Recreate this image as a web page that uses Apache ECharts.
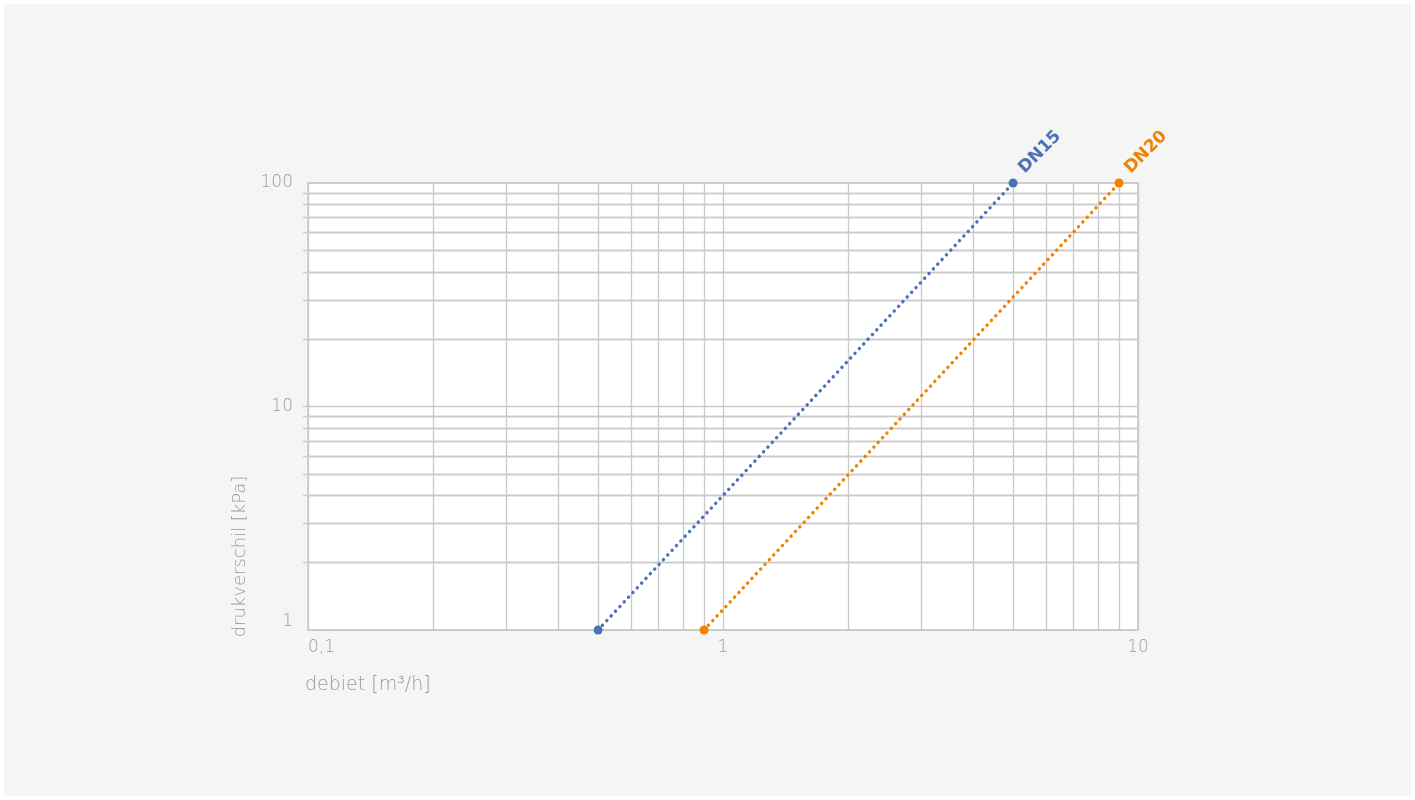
<!DOCTYPE html>
<html>
<head>
<meta charset="utf-8">
<title>drukverschil</title>
<script src="https://cdn.jsdelivr.net/npm/echarts@6/dist/echarts.min.js"></script>
<style>
  html, body { margin: 0; padding: 0; background: #ffffff; }
  #container { position: absolute; left: 4px; top: 4px; width: 1407px; height: 792px; }
</style>
</head>
<body>
<div id="container"></div>
<script>
// debiet [m3/h] -> drukverschil [kPa]
const dn15 = [[0.5, 1], [5, 100]];
const dn20 = [[0.9, 1], [9, 100]];
const seriesNames = ['DN15', 'DN20'];
const seriesColors = ['#4a72b8', '#f08200'];

// minor grid lines
const xMinor = [0.2, 0.3, 0.4, 0.5, 0.6, 0.7, 0.8, 0.9, 2, 3, 4, 5, 6, 7, 8, 9];
const yMinor = [2, 3, 4, 5, 6, 7, 8, 9, 20, 30, 40, 50, 60, 70, 80, 90];
const yTicks = [2, 3, 4, 5, 6, 7, 8, 9, 10, 20, 30, 40, 50, 60, 70, 80, 90];

const font = '"DejaVu Sans", Lato, sans-serif';
const textGrey = '#9a9a9a';
const gridGrey = '#cacaca';

const myChart = echarts.init(document.getElementById('container'));

function withLabel(points, name, color) {
    return points.map((p, i) => i === points.length - 1 ? {
        value: p,
        label: {
            show: true,
            formatter: name,
            position: [13, -8],
            align: 'left',
            verticalAlign: 'middle',
            rotate: 45,
            color: color,
            fontFamily: font,
            fontWeight: 'bold',
            fontSize: 17
        }
    } : p);
}

function makeSeries(points, name, color, withGrid) {
    const s = {
        name: name,
        type: 'line',
        data: withLabel(points, name, color),
        symbol: 'circle',
        symbolSize: 9,
        clip: false,
        z: 3,
        itemStyle: { color: color },
        lineStyle: { color: color, width: 3.4, type: [0.1, 6.3], cap: 'round' },
        emphasis: { disabled: true }
    };
    if (withGrid) {
        s.markLine = {
            silent: true,
            symbol: 'none',
            z: 1,
            label: { show: false },
            lineStyle: { color: gridGrey, type: 'solid', width: 1.3 },
            emphasis: { disabled: true },
            data: xMinor.map(v => ({ xAxis: v })).concat(yMinor.map(v => ({ yAxis: v })))
        };
    }
    return s;
}

const option = {
    backgroundColor: '#f5f5f5',
    animation: false,
    grid: {
        left: 304,
        right: 273,
        top: 179,
        bottom: 166,
        show: true,
        backgroundColor: '#ffffff',
        borderColor: '#bdbdbd',
        borderWidth: 1.3
    },
    xAxis: {
        type: 'log',
        logBase: 10,
        min: 0.1,
        max: 10,
        name: 'debiet [m³/h]',
        nameLocation: 'start',
        nameGap: 3,
        nameTextStyle: {
            color: textGrey,
            fontFamily: font,
            fontWeight: 200,
            fontSize: 19,
            align: 'left',
            verticalAlign: 'top',
            padding: [46, 0, 0, 0]
        },
        axisLine: { show: false },
        axisTick: { show: false },
        axisLabel: {
            color: textGrey,
            fontFamily: font,
            fontWeight: 200,
            fontSize: 17,
            margin: 9,
            alignMinLabel: 'left',
            formatter: v => String(v).replace('.', ',')
        },
        splitLine: { show: true, lineStyle: { color: gridGrey, width: 1.3 } }
    },
    yAxis: {
        type: 'log',
        logBase: 10,
        min: 1,
        max: 100,
        name: 'drukverschil [kPa]',
        nameLocation: 'middle',
        nameGap: 58,
        nameRotate: 90,
        nameTextStyle: {
            color: textGrey,
            fontFamily: font,
            fontWeight: 200,
            fontSize: 18,
            padding: [0, 300, 0, 0]
        },
        axisLine: { show: false },
        axisTick: {
            show: true,
            inside: false,
            length: 5,
            customValues: yTicks,
            lineStyle: { color: gridGrey, width: 1.3 }
        },
        axisLabel: {
            color: textGrey,
            fontFamily: font,
            fontWeight: 200,
            fontSize: 17,
            margin: 15,
            verticalAlignMinLabel: 'bottom'
        },
        splitLine: { show: true, lineStyle: { color: gridGrey, width: 1.3 } }
    },
    series: [
        makeSeries(dn15, seriesNames[0], seriesColors[0], true),
        makeSeries(dn20, seriesNames[1], seriesColors[1], false)
    ]
};
myChart.setOption(option);
window.addEventListener('resize', () => {
    myChart.resize();
});
</script>
</body>
</html>
